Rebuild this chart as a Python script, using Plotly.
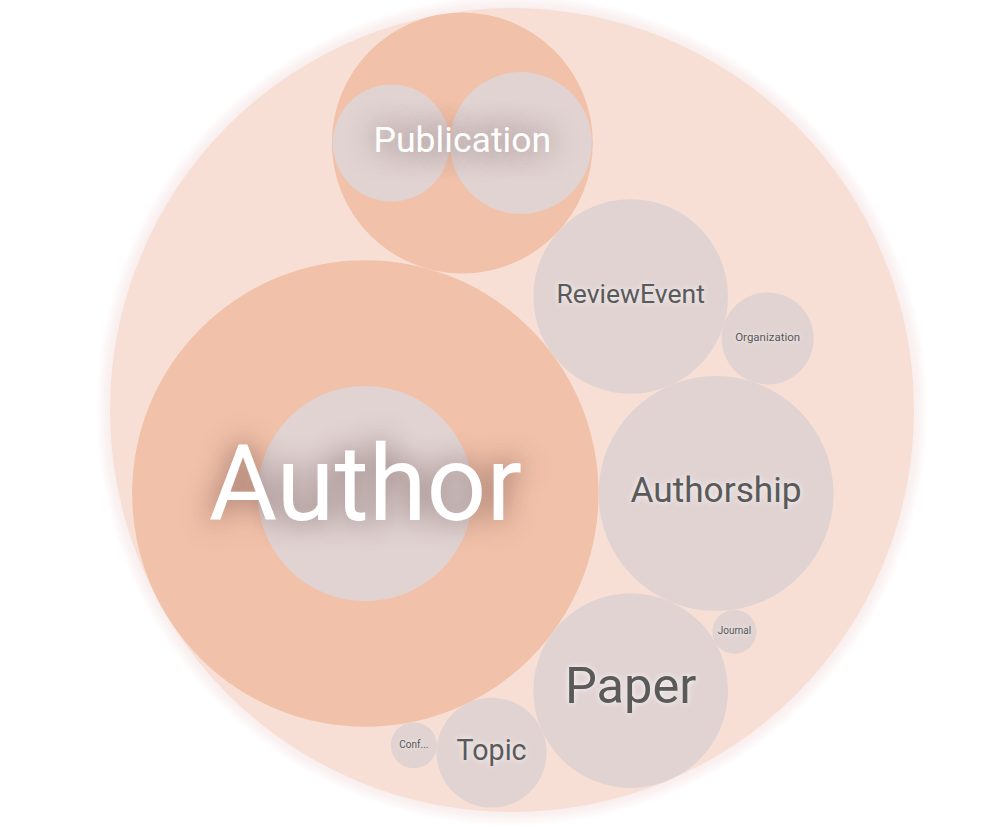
import math
import plotly.graph_objects as go

# ---------------- data ----------------
names = ["Author", "Authorship", "Paper", "ReviewEvent", "Publication",
         "Topic", "Organization", "Conference", "Journal"]
values = [540, 137, 94, 94, 169, 30, 21, 5.3, 4.8]

sub_parents = ["Author", "Publication", "Publication"]
sub_values = [115, 34, 50]

# ---------------- style ----------------
W, H = 1002, 828
ROOT_CX, ROOT_CY, ROOT_R = 512, 410, 402
ROOT_FILL = "#f7dfd5"
GROUP_FILL = "#f2c1a9"
LEAF_FILL = "#e0d3d2"
DARK_TEXT = "#5a5a5a"
FONT = "Roboto"

ROBOTO_W = {'A': .652, 'C': .652, 'E': .568, 'J': .551, 'O': .688, 'P': .631,
            'R': .616, 'T': .611, 'a': .544, 'b': .561, 'c': .523, 'e': .529,
            'f': .347, 'g': .561, 'h': .552, 'i': .243, 'l': .243, 'n': .552,
            'o': .570, 'p': .561, 'r': .338, 's': .515, 't': .327, 'u': .551,
            'v': .484, 'w': .751, 'z': .496, '.': .263}


def text_em(s):
    return sum(ROBOTO_W.get(ch, 0.55) for ch in s)


# ---------------- d3-style circle packing ----------------
class Circ:
    def __init__(self, r):
        self.x = 0.0
        self.y = 0.0
        self.r = r


class Node:
    def __init__(self, c):
        self.c = c
        self.next = None
        self.prev = None


def place(b, a, c):
    dx = b.x - a.x
    dy = b.y - a.y
    d2 = dx * dx + dy * dy
    if d2:
        a2 = (a.r + c.r) ** 2
        b2 = (b.r + c.r) ** 2
        if a2 > b2:
            x = (d2 + b2 - a2) / (2 * d2)
            y = math.sqrt(max(0, b2 / d2 - x * x))
            c.x = b.x - x * dx - y * dy
            c.y = b.y - x * dy + y * dx
        else:
            x = (d2 + a2 - b2) / (2 * d2)
            y = math.sqrt(max(0, a2 / d2 - x * x))
            c.x = a.x + x * dx - y * dy
            c.y = a.y + x * dy + y * dx
    else:
        c.x = a.x + c.r
        c.y = a.y


def intersects(a, b):
    dr = a.r + b.r - 1e-6
    dx = b.x - a.x
    dy = b.y - a.y
    return dr > 0 and dr * dr > dx * dx + dy * dy


def score(node):
    a = node.c
    b = node.next.c
    ab = a.r + b.r
    dx = (a.x * b.r + b.x * a.r) / ab
    dy = (a.y * b.r + b.y * a.r) / ab
    return dx * dx + dy * dy


def encloses_weak(a, b):
    dr = a.r - b.r + max(a.r, b.r, 1) * 1e-9
    dx = b.x - a.x
    dy = b.y - a.y
    return dr > 0 and dr * dr > dx * dx + dy * dy


def encloses_not(a, b):
    dr = a.r - b.r
    dx = b.x - a.x
    dy = b.y - a.y
    return dr < 0 or dr * dr < dx * dx + dy * dy


def encloses_weak_all(a, B):
    return all(encloses_weak(a, b) for b in B)


def basis1(a):
    c = Circ(a.r)
    c.x, c.y = a.x, a.y
    return c


def basis2(a, b):
    x21 = b.x - a.x
    y21 = b.y - a.y
    r21 = b.r - a.r
    l = math.sqrt(x21 * x21 + y21 * y21)
    c = Circ((l + a.r + b.r) / 2)
    c.x = (a.x + b.x + x21 / l * r21) / 2
    c.y = (a.y + b.y + y21 / l * r21) / 2
    return c


def basis3(a, b, c):
    x1, y1, r1 = a.x, a.y, a.r
    x2, y2, r2 = b.x, b.y, b.r
    x3, y3, r3 = c.x, c.y, c.r
    a2 = x1 - x2
    a3 = x1 - x3
    b2 = y1 - y2
    b3 = y1 - y3
    c2 = r2 - r1
    c3 = r3 - r1
    d1 = x1 * x1 + y1 * y1 - r1 * r1
    d2 = d1 - x2 * x2 - y2 * y2 + r2 * r2
    d3 = d1 - x3 * x3 - y3 * y3 + r3 * r3
    ab = a3 * b2 - a2 * b3
    xa = (b2 * d3 - b3 * d2) / (ab * 2) - x1
    xb = (b3 * c2 - b2 * c3) / ab
    ya = (a3 * d2 - a2 * d3) / (ab * 2) - y1
    yb = (a2 * c3 - a3 * c2) / ab
    A = xb * xb + yb * yb - 1
    Bq = 2 * (r1 + xa * xb + ya * yb)
    Cq = xa * xa + ya * ya - r1 * r1
    r = -((Bq + math.sqrt(Bq * Bq - 4 * A * Cq)) / (2 * A) if abs(A) > 1e-6 else Cq / Bq)
    out = Circ(r)
    out.x = x1 + xa + xb * r
    out.y = y1 + ya + yb * r
    return out


def extend_basis(B, p):
    if encloses_weak_all(p, B):
        return [p]
    for i in range(len(B)):
        if encloses_not(p, B[i]) and encloses_weak_all(basis2(B[i], p), B):
            return [B[i], p]
    for i in range(len(B) - 1):
        for j in range(i + 1, len(B)):
            if (encloses_not(basis2(B[i], B[j]), p)
                    and encloses_not(basis2(B[i], p), B[j])
                    and encloses_not(basis2(B[j], p), B[i])
                    and encloses_weak_all(basis3(B[i], B[j], p), B)):
                return [B[i], B[j], p]
    raise RuntimeError("enclose failed")


def enclose_basis(B):
    if len(B) == 1:
        return basis1(B[0])
    if len(B) == 2:
        return basis2(B[0], B[1])
    return basis3(B[0], B[1], B[2])


def enclose(circles):
    i, n, B, e = 0, len(circles), [], None
    while i < n:
        p = circles[i]
        if e is not None and encloses_weak(e, p):
            i += 1
        else:
            B = extend_basis(B, p)
            e = enclose_basis(B)
            i = 0
    return e


def pack_siblings(circles):
    n = len(circles)
    if n == 0:
        return 0
    a = circles[0]
    a.x, a.y = 0.0, 0.0
    if n == 1:
        return a.r
    b = circles[1]
    a.x = -b.r
    b.x = a.r
    b.y = 0.0
    if n == 2:
        return a.r + b.r
    c = circles[2]
    place(b, a, c)
    a, b, c = Node(a), Node(b), Node(c)
    a.next = b
    c.prev = b
    b.next = c
    a.prev = c
    c.next = a
    b.prev = a
    i = 3
    while i < n:
        cc = circles[i]
        place(a.c, b.c, cc)
        c = Node(cc)
        j, k = b.next, a.prev
        sj, sk = b.c.r, a.c.r
        retry = False
        while True:
            if sj <= sk:
                if intersects(j.c, c.c):
                    b = j
                    a.next = b
                    b.prev = a
                    retry = True
                    break
                sj += j.c.r
                j = j.next
            else:
                if intersects(k.c, c.c):
                    a = k
                    a.next = b
                    b.prev = a
                    retry = True
                    break
                sk += k.c.r
                k = k.prev
            if j is k.next:
                break
        if retry:
            continue
        c.prev = a
        c.next = b
        b.prev = c
        a.next = c
        b = c
        aa = score(a)
        c = c.next
        while c is not b:
            ca = score(c)
            if ca < aa:
                a, aa = c, ca
            c = c.next
        b = a.next
        i += 1
    chain = [b.c]
    c = b.next
    while c is not b:
        chain.append(c.c)
        c = c.next
    e = enclose(chain)
    for cir in circles:
        cir.x -= e.x
        cir.y -= e.y
    return e.r


# top level
top = [Circ(math.sqrt(v)) for v in values]
root_r = pack_siblings(top)
k = ROOT_R / root_r
for c in top:
    c.x = ROOT_CX + c.x * k
    c.y = ROOT_CY + c.y * k
    c.r *= k

# children of groups
subs = []
for pname in names:
    idx = [i for i, p in enumerate(sub_parents) if p == pname]
    if not idx:
        continue
    parent = top[names.index(pname)]
    kids = [Circ(math.sqrt(sub_values[i])) for i in idx]
    pack_siblings(kids)
    for kc in kids:
        kc.x = parent.x + kc.x * k
        kc.y = parent.y + kc.y * k
        kc.r *= k
        subs.append(kc)

groups = set(sub_parents)

# ---------------- figure ----------------
shapes = []


def circle_shape(c, fill, opacity=1.0):
    return dict(type="circle", xref="x", yref="y", layer="below",
                x0=c.x - c.r, x1=c.x + c.r, y0=c.y - c.r, y1=c.y + c.r,
                fillcolor=fill, opacity=opacity, line=dict(width=0))


# soft halo around the root circle
for g in range(6, 0, -1):
    halo = Circ(ROOT_R + g * 2.2)
    halo.x, halo.y = ROOT_CX, ROOT_CY
    shapes.append(circle_shape(halo, ROOT_FILL, 0.08))
root = Circ(ROOT_R)
root.x, root.y = ROOT_CX, ROOT_CY
shapes.append(circle_shape(root, ROOT_FILL))
for name, c in zip(names, top):
    shapes.append(circle_shape(c, GROUP_FILL if name in groups else LEAF_FILL))
for c in subs:
    shapes.append(circle_shape(c, LEAF_FILL))


def label_for(name, r, is_group):
    cap = (0.45 if is_group else 0.52) * r
    fs = max(min(cap, 3 * r / len(name)), 10)
    txt = name
    if text_em(txt) * fs > 0.9 * 2 * r:
        while len(txt) > 1 and text_em(txt + "...") * fs > 0.7 * 2 * r:
            txt = txt[:-1]
        txt = txt + "..."
    return txt, fs


g_x, g_y, g_t, g_s = [], [], [], []
l_x, l_y, l_t, l_s = [], [], [], []
for name, c in zip(names, top):
    is_g = name in groups
    t, fs = label_for(name, c.r, is_g)
    if is_g:
        g_x.append(c.x); g_y.append(c.y); g_t.append(t); g_s.append(fs)
    else:
        l_x.append(c.x); l_y.append(c.y); l_t.append(t); l_s.append(fs)

fig = go.Figure()
fig.add_trace(go.Scatter(
    x=l_x, y=l_y, text=l_t, mode="text", textposition="middle center",
    textfont=dict(family=FONT, size=l_s, color=DARK_TEXT,
                  shadow="0px 0px 6px rgba(255,255,255,0.9)"),
    hoverinfo="skip", showlegend=False))
fig.add_trace(go.Scatter(
    x=g_x, y=g_y, text=g_t, mode="text", textposition="middle center",
    textfont=dict(family=FONT, size=g_s, color="#ffffff",
                  shadow="0px 0px 28px rgba(90,60,60,0.75)"),
    hoverinfo="skip", showlegend=False))

fig.update_layout(
    width=W, height=H, margin=dict(l=0, r=0, t=0, b=0),
    paper_bgcolor="white", plot_bgcolor="white",
    shapes=shapes,
    xaxis=dict(range=[0, W], visible=False, fixedrange=True),
    yaxis=dict(range=[H, 0], visible=False, fixedrange=True),
)
fig.write_html("out.html")
